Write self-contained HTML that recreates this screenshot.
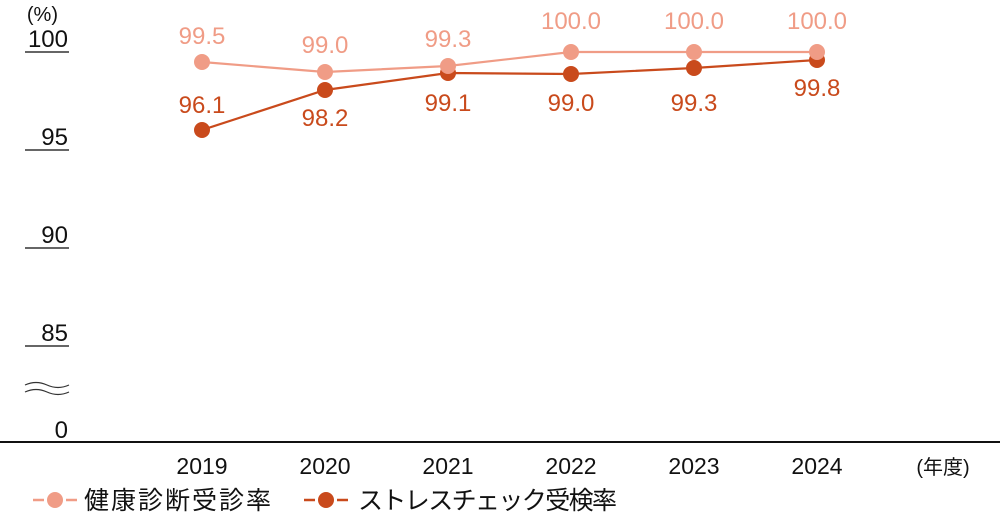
<!DOCTYPE html>
<html><head><meta charset="utf-8"><style>
body{margin:0;background:#fff;}
svg{display:block;font-family:"Liberation Sans","Noto Sans CJK JP",sans-serif;}
</style></head><body>
<svg width="1000" height="520" viewBox="0 0 1000 520">
<g fill="#111" font-size="24" text-anchor="end">
<text x="58" y="21" font-size="20">(%)</text>
<text x="68" y="47">100</text>
<text x="68" y="145">95</text>
<text x="68" y="243">90</text>
<text x="68" y="341">85</text>
<text x="68" y="438">0</text>
</g>
<g stroke="#333" stroke-width="1.5">
<line x1="25" y1="52" x2="69" y2="52"/>
<line x1="25" y1="150" x2="69" y2="150"/>
<line x1="25" y1="248" x2="69" y2="248"/>
<line x1="25" y1="346" x2="69" y2="346"/>
</g>
<g stroke="#333" stroke-width="1.2" fill="none">
<path d="M25 385 q11 -5 22 0 t22 0"/>
<path d="M25 392 q11 -5 22 0 t22 0"/>
</g>
<line x1="0" y1="442" x2="1000" y2="442" stroke="#111" stroke-width="2"/>
<g font-size="23" fill="#111" text-anchor="middle">
<text x="202" y="474">2019</text><text x="325" y="474">2020</text><text x="448" y="474">2021</text>
<text x="571" y="474">2022</text><text x="694" y="474">2023</text><text x="817" y="474">2024</text>
<text x="943" y="474" font-size="20">(年度)</text>
</g>
<polyline points="202,130 325,90 448,73 571,74 694,68 817,60" fill="none" stroke="#c94a1c" stroke-width="2.2"/>
<g fill="#c94a1c"><circle cx="202" cy="130" r="8"/><circle cx="325" cy="90" r="8"/><circle cx="448" cy="73" r="8"/><circle cx="571" cy="74" r="8"/><circle cx="694" cy="68" r="8"/><circle cx="817" cy="60" r="8"/></g>
<polyline points="202,62 325,72 448,66 571,52 694,52 817,52" fill="none" stroke="#f09c86" stroke-width="2.2"/>
<g fill="#f09c86"><circle cx="202" cy="62" r="8"/><circle cx="325" cy="72" r="8"/><circle cx="448" cy="66" r="8"/><circle cx="571" cy="52" r="8"/><circle cx="694" cy="52" r="8"/><circle cx="817" cy="52" r="8"/></g>
<g font-size="24" fill="#f09c86" text-anchor="middle">
<text x="202" y="44">99.5</text><text x="325" y="53">99.0</text><text x="448" y="47">99.3</text>
<text x="571" y="29">100.0</text><text x="694" y="29">100.0</text><text x="817" y="29">100.0</text>
</g>
<g font-size="24" fill="#c94a1c" text-anchor="middle">
<text x="202" y="113">96.1</text><text x="325" y="126">98.2</text><text x="448" y="111">99.1</text>
<text x="571" y="111">99.0</text><text x="694" y="111">99.3</text><text x="817" y="96">99.8</text>
</g>
<line x1="33" y1="500" x2="44" y2="500" stroke="#f09c86" stroke-width="2.5"/><line x1="66" y1="500" x2="77" y2="500" stroke="#f09c86" stroke-width="2.5"/>
<circle cx="55" cy="500" r="8" fill="#f09c86"/>
<text x="84" y="509" font-size="25" fill="#111" textLength="187">健康診断受診率</text>
<line x1="304" y1="500" x2="315" y2="500" stroke="#c94a1c" stroke-width="2.5"/><line x1="337" y1="500" x2="348" y2="500" stroke="#c94a1c" stroke-width="2.5"/>
<circle cx="326" cy="500" r="8" fill="#c94a1c"/>
<text x="358" y="509" font-size="25" fill="#111" textLength="259">ストレスチェック受検率</text>
</svg>
</body></html>
